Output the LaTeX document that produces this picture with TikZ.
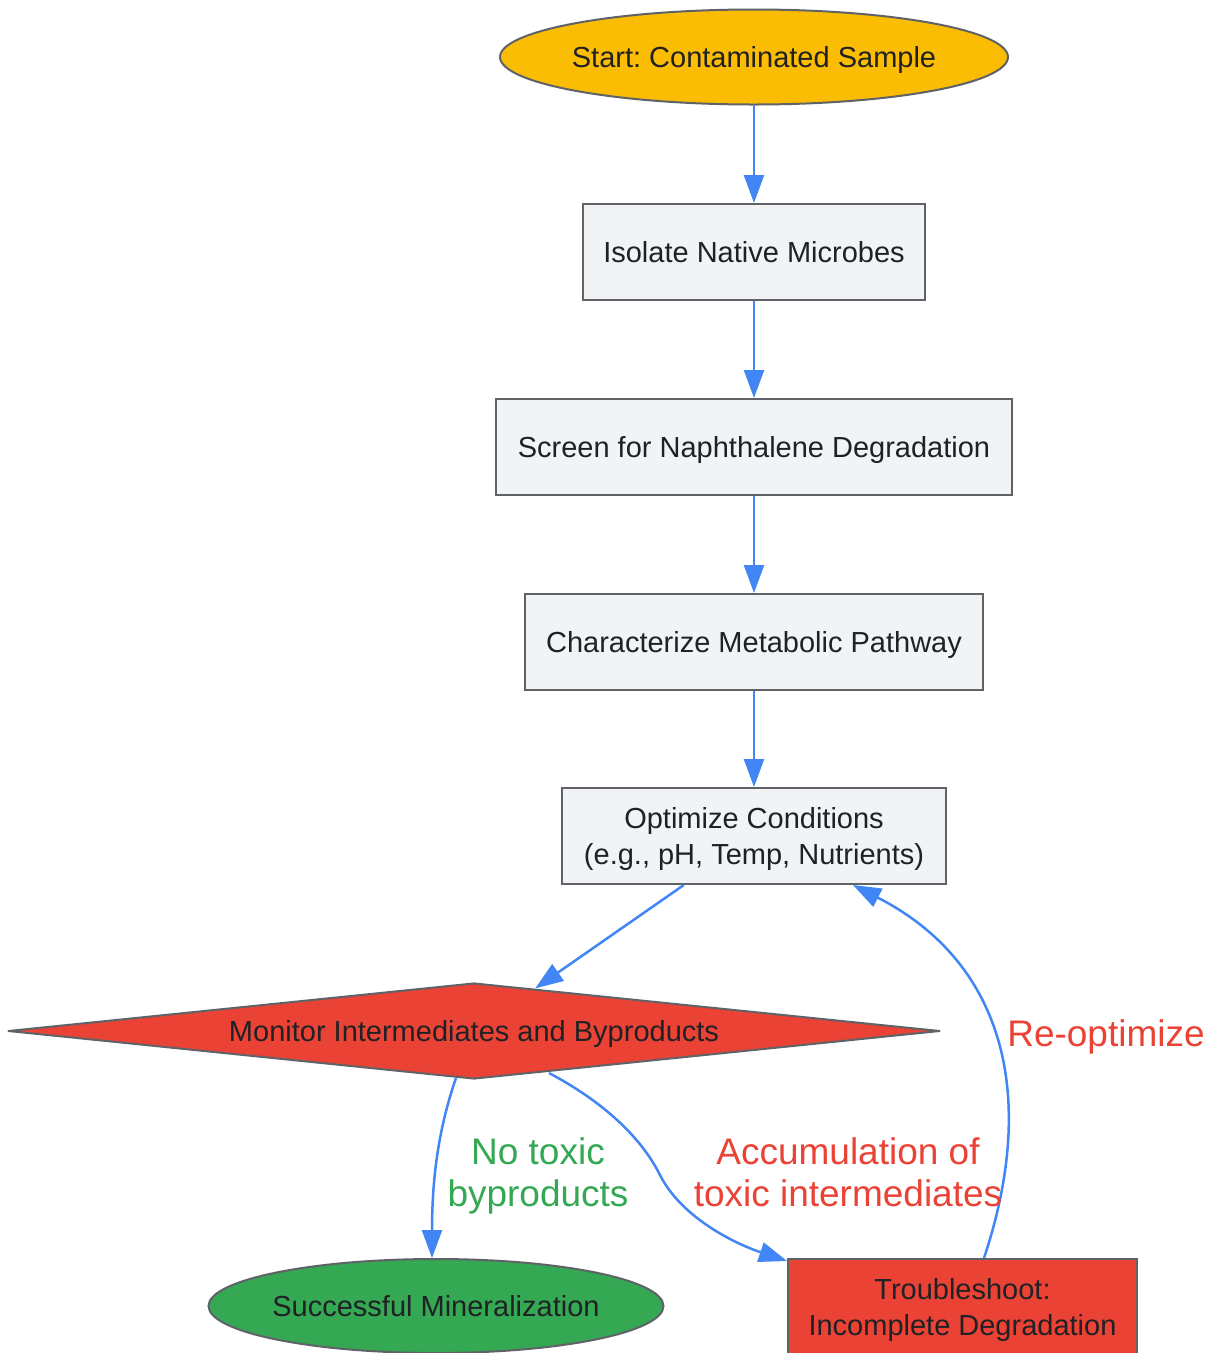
\documentclass[tikz,border=0pt]{standalone}
\usepackage{fontspec}
\setmainfont{Liberation Sans}
\frenchspacing
\usetikzlibrary{arrows.meta,shapes.geometric,calc}
\definecolor{boxfill}{HTML}{F1F3F4}
\definecolor{boxline}{HTML}{5F6368}
\definecolor{txt}{HTML}{202124}
\definecolor{gYellow}{HTML}{FBBC04}
\definecolor{gRed}{HTML}{EA4335}
\definecolor{gGreen}{HTML}{34A853}
\definecolor{gBlue}{HTML}{4285F4}
\tikzset{
  base/.style={draw=boxline, line width=2pt, text=txt, font=\fontsize{29pt}{36pt}\selectfont\frenchspacing, align=center, inner sep=0pt, text depth=0pt},
  stepbox/.style={base, rectangle, fill=boxfill, minimum height=96pt},
  oval/.style={base, ellipse},
  decision/.style={base, diamond, fill=gRed, line join=round},
  conn/.style={draw=gBlue, line width=2.5pt, -{Triangle[length=28pt,width=20pt]}},
  elabel/.style={font=\fontsize{37pt}{42pt}\selectfont\frenchspacing, align=center, inner sep=0pt, text depth=0pt}
}
\begin{document}
\begin{tikzpicture}[x=1pt,y=-1pt]
\useasboundingbox (0,0) rectangle (1208,1353);
\node[oval, fill=gYellow, inner xsep=-4pt, minimum width=508pt, minimum height=95pt] (start) at (754,57) {Start: Contaminated Sample};
\node[stepbox, minimum width=342pt] (iso) at (754,252) {Isolate Native Microbes};
\node[stepbox, minimum width=516pt] (scr) at (754,447) {Screen for Naphthalene Degradation};
\node[stepbox, minimum width=458pt] (chr) at (754,642) {Characterize Metabolic Pathway};
\node[stepbox, minimum width=384pt] (opt) at (754,836) {Optimize Conditions\\(e.g., pH, Temp, Nutrients)};
\node[decision, aspect=9.7, minimum width=932pt, minimum height=96pt] (dia) at (474,1031) {Monitor Intermediates and Byproducts};
\node[oval, fill=gGreen, inner xsep=-3pt, minimum width=455pt, minimum height=94pt] (succ) at (436,1306) {Successful Mineralization};
\node[stepbox, fill=gRed, minimum width=349pt] (trb) at (962.5,1307) {Troubleshoot:\\Incomplete Degradation};

\draw[conn] (start) -- (iso);
\draw[conn] (iso) -- (scr);
\draw[conn] (scr) -- (chr);
\draw[conn] (chr) -- (opt);
\draw[conn] (opt) -- (dia);
\draw[conn] ($(dia.south)+(-18,-2)$) .. controls (438,1130) and (432,1180) .. ($(succ.north)+(-4,0)$);
\draw[conn] ($(dia.south)+(75,-7)$) .. controls (600,1100) and (640,1135) .. (660,1175) .. controls (680,1215) and (730,1242) .. ($(trb.north west)+(0,3)$);
\draw[conn] ($(trb.north)+(21.5,0)$) .. controls (1040,1090) and (1000,960) .. ($(opt.south)+(99,0)$);

\node[elabel, text=gGreen] (l1) at (538,1172) {No toxic\\byproducts};
\node[elabel, text=gRed] (l2) at (848,1172) {Accumulation of\\toxic intermediates};
\node[elabel, text=gRed] (l3) at (1106,1033) {Re-optimize};
\end{tikzpicture}
\end{document}
